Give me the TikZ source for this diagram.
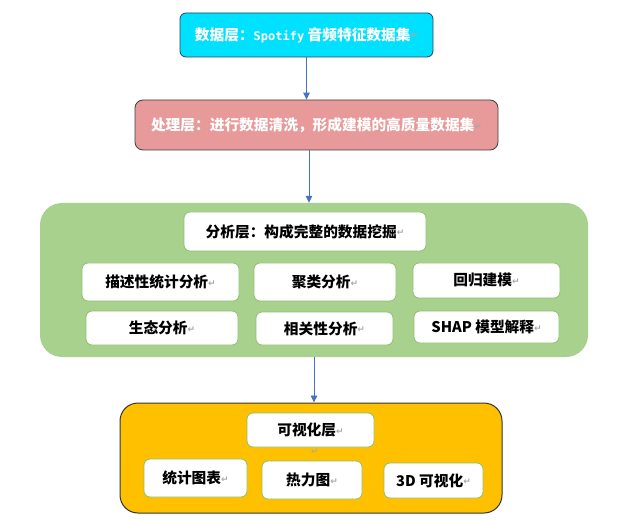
\documentclass[tikz,border=0pt]{standalone}
\usepackage{fontspec}
\setmainfont{Noto Sans CJK SC}
\newfontfamily\markfont{DejaVu Sans}
\newfontfamily\monof{DejaVu Sans Mono}
\usetikzlibrary{arrows.meta}
\definecolor{cyanf}{HTML}{00E1FF}
\definecolor{navy}{HTML}{2F4160}
\definecolor{pinkf}{HTML}{E89A9A}
\definecolor{greenf}{HTML}{A9D18E}
\definecolor{boxgreen}{HTML}{8CC06B}
\definecolor{orangef}{HTML}{FFC000}
\definecolor{arrblue}{HTML}{4472C4}
\definecolor{markgray}{HTML}{A8A8A8}
\newcommand\rmk{{\markfont\fontsize{9}{9}\selectfont\color{markgray}\raisebox{1.2pt}{↵}}}
\tikzset{
  box/.style={draw, rounded corners=6pt, inner sep=0pt, line width=0.8pt,
    font=\bfseries\fontsize{14.7}{16}\selectfont},
  wbox/.style={box, fill=white, draw=boxgreen},
  group/.style={inner sep=0pt, draw=none},
  arr/.style={draw=arrblue, line width=0.9pt, -{Triangle[length=7pt,width=6.5pt]}},
}
\begin{document}
\begin{tikzpicture}[x=1pt,y=-1pt]
\useasboundingbox[fill=white] (0,0) rectangle (629,521);
% layer boxes
\node[box, fill=cyanf, draw=navy, text=white, minimum width=253pt, minimum height=44pt]
  (data) at (306.5,35) {数据层：{\monof\fontsize{12}{14}\selectfont Spotify} 音频特征数据集\rmk};
\node[box, fill=pinkf, draw=black!75, text=white, rounded corners=8pt, minimum width=363pt, minimum height=50pt]
  (proc) at (316.5,125) {处理层：进行数据清洗，形成建模的高质量数据集\rmk};
% analysis group
\node[group, fill=greenf, rounded corners=22pt, minimum width=548pt, minimum height=154pt]
  (green) at (314,280) {};
\node[wbox, minimum width=242pt, minimum height=39pt] (atitle) at (305,231.5) {分析层：构成完整的数据挖掘\rmk};
\node[wbox, minimum width=157pt, minimum height=38pt] (b1) at (160.5,282) {描述性统计分析\rmk};
\node[wbox, minimum width=142pt, minimum height=38pt] (b2) at (325,282) {聚类分析\rmk};
\node[wbox, minimum width=147pt, minimum height=35pt] (b3) at (486.5,280.5) {回归建模\rmk};
\node[wbox, minimum width=152pt, minimum height=34pt] (b4) at (162,328) {生态分析\rmk};
\node[wbox, minimum width=137pt, minimum height=33pt] (b5) at (324.5,328.5) {相关性分析\rmk};
\node[wbox, minimum width=145pt, minimum height=32pt] (b6) at (486.5,327) {SHAP 模型解释\rmk};
% visualisation group
\node[group, draw=black!80, line width=1pt, fill=orangef, rounded corners=18pt, minimum width=382pt, minimum height=110pt]
  (orange) at (311,458) {};
\node[wbox, minimum width=127pt, minimum height=34pt] (vtitle) at (310.5,430) {可视化层\rmk};
\node[inner sep=0pt] (vmark) at (315,452) {\rmk};
\node[wbox, minimum width=103pt, minimum height=38pt] (v1) at (195.5,478) {统计图表\rmk};
\node[wbox, minimum width=100pt, minimum height=38pt] (v2) at (312,480) {热力图\rmk};
\node[wbox, minimum width=99pt, minimum height=35pt] (v3) at (433.5,480.5) {3D 可视化\rmk};
% connectors
\draw[arr] (data.south) -- (data.south |- proc.north);
\draw[arr] ([xshift=-7.5pt]proc.south) -- ([xshift=-7.5pt]proc.south |- green.north);
\draw[arr] (green.south) -- (green.south |- orange.north);
\end{tikzpicture}
\end{document}
